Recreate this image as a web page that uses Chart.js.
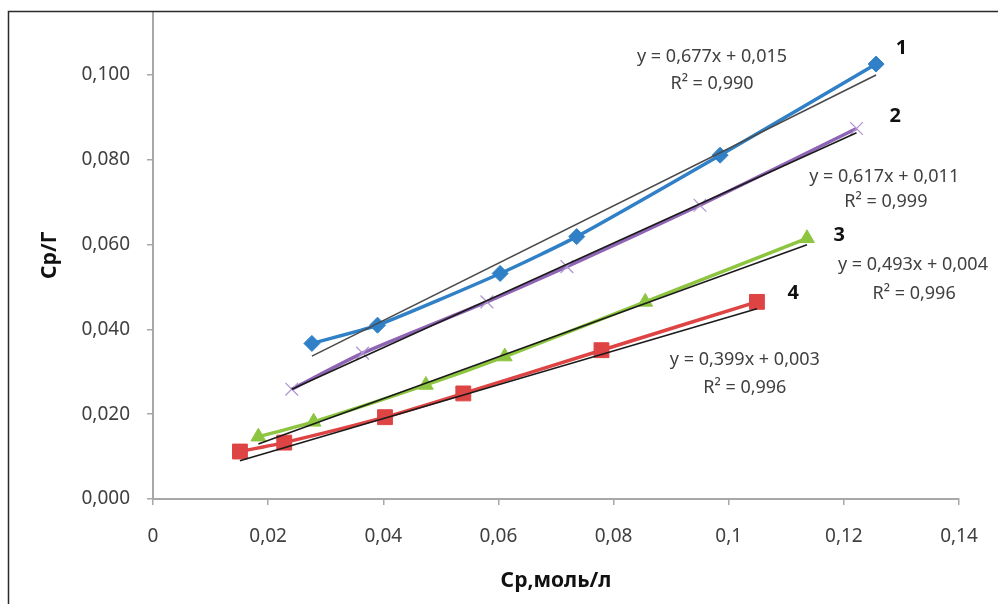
<!DOCTYPE html>
<html lang="ru">

<head>
    <meta charset="UTF-8">
    <title>Ср/Г от Ср</title>
    <style>
        html, body {
            margin: 0;
            padding: 0;
            background: #fff;
        }

        #wrap {
            width: 998px;
            height: 604px;
        }
    </style>
</head>

<body>

    <div id="wrap">
        <canvas id="chart"></canvas>
    </div>

    <script src="https://cdn.jsdelivr.net/npm/chart.js@4.4.3/dist/chart.umd.min.js"></script>

    <script>
        // curve 1 (blue diamonds)
        const x1 = [0.0276, 0.0390, 0.0603, 0.0736, 0.0985, 0.1256]
        const y1 = [0.0367, 0.0410, 0.0532, 0.0619, 0.0811, 0.1026]
        // curve 2 (purple crosses)
        const x2 = [0.0241, 0.0364, 0.0580, 0.0719, 0.0950, 0.1222]
        const y2 = [0.0259, 0.0344, 0.0465, 0.0548, 0.0693, 0.0874]
        // curve 3 (green triangles)
        const x3 = [0.0183, 0.0279, 0.0474, 0.0611, 0.0855, 0.1136]
        const y3 = [0.0147, 0.0182, 0.0269, 0.0336, 0.0465, 0.0615]
        // curve 4 (red squares)
        const x4 = [0.0151, 0.0228, 0.0403, 0.0539, 0.0779, 0.1049]
        const y4 = [0.0112, 0.0133, 0.0193, 0.0249, 0.0351, 0.0465]

        // linear trend lines, ends
        const t1x = [0.0276, 0.1256]
        const t1y = [0.0337, 0.1000]
        const t2x = [0.0241, 0.1222]
        const t2y = [0.0259, 0.0864]
        const t3x = [0.0183, 0.1136]
        const t3y = [0.0130, 0.0600]
        const t4x = [0.0151, 0.1049]
        const t4y = [0.0090, 0.0449]

        const xTicks = [0, 0.02, 0.04, 0.06, 0.08, 0.1, 0.12, 0.14]
        const xTickLabels = ['0', '0,02', '0,04', '0,06', '0,08', '0,1', '0,12', '0,14']
        const yTicks = [0, 0.02, 0.04, 0.06, 0.08, 0.1]
        const yTickLabels = ['0,000', '0,020', '0,040', '0,060', '0,080', '0,100']

        // equation notes (data coordinates of text centre)
        const noteText = ['y = 0,677x + 0,015', 'R² = 0,990',
            'y = 0,617x + 0,011', 'R² = 0,999',
            'y = 0,493x + 0,004', 'R² = 0,996',
            'y = 0,399x + 0,003', 'R² = 0,996']
        const noteX = [0.0971, 0.0971, 0.1270, 0.1273, 0.1320, 0.1322, 0.1028, 0.1028]
        const noteY = [0.1043, 0.0980, 0.0760, 0.0701, 0.0552, 0.0485, 0.0328, 0.0261]

        const curveNames = ['1', '2', '3', '4']
        const nameX = [0.1300, 0.1289, 0.1192, 0.1112]
        const nameY = [0.1063, 0.0902, 0.0623, 0.0485]

        const pts = (xs, ys) => xs.map((x, i) => ({ x: x, y: ys[i] }))

        const frame = {
            id: 'frame',
            afterDraw(chart) {
                const c = chart.ctx
                c.save()
                c.strokeStyle = '#2a2a2a'
                c.lineWidth = 1.5
                c.beginPath()
                c.moveTo(8.5, chart.height)
                c.lineTo(8.5, 11.5)
                c.lineTo(chart.width, 11.5)
                c.stroke()
                c.restore()
            }
        }

        const notes = {
            id: 'notes',
            afterDatasetsDraw(chart) {
                const c = chart.ctx
                const sx = chart.scales.x
                const sy = chart.scales.y
                c.save()
                c.textAlign = 'center'
                c.textBaseline = 'middle'
                c.fillStyle = '#404040'
                c.font = '18px "Noto Sans"'
                noteText.forEach((t, i) => {
                    c.fillText(t, sx.getPixelForValue(noteX[i]), sy.getPixelForValue(noteY[i]))
                })
                c.fillStyle = '#111'
                c.font = 'bold 20px "Noto Sans"'
                curveNames.forEach((t, i) => {
                    c.fillText(t, sx.getPixelForValue(nameX[i]), sy.getPixelForValue(nameY[i]))
                })
                c.restore()
            }
        }

        const serie = (xs, ys, color, style, radius, extra) => Object.assign({
            data: pts(xs, ys),
            showLine: true,
            borderColor: color,
            backgroundColor: color,
            borderWidth: 3.5,
            pointStyle: style,
            pointRadius: radius,
            pointBorderColor: color,
            pointBackgroundColor: color,
            pointBorderWidth: 1,
            tension: 0.2,
            order: 2,
        }, extra || {})

        const trend = (xs, ys, color) => ({
            data: pts(xs, ys),
            showLine: true,
            borderColor: color,
            borderWidth: 1.6,
            pointRadius: 0,
            tension: 0,
            order: 1,
        })

        Chart.defaults.font.family = '"Noto Sans", sans-serif'

        new Chart(document.getElementById('chart'), {
            type: 'scatter',
            data: {
                datasets: [
                    trend(t1x, t1y, '#4a4a4a'),
                    trend(t2x, t2y, '#1a1a1a'),
                    trend(t3x, t3y, '#1a1a1a'),
                    trend(t4x, t4y, '#1a1a1a'),
                    serie(x1, y1, '#2f80c6', 'rectRot', 8),
                    serie(x2, y2, '#8e64b4', 'crossRot', 9, { pointBorderColor: '#b196d2', pointBorderWidth: 1.3 }),
                    serie(x3, y3, '#8dc540', 'triangle', 8.5),
                    serie(x4, y4, '#de4444', 'rect', 10.5),
                ],
            },
            options: {
                responsive: true,
                maintainAspectRatio: false,
                animation: false,
                layout: { padding: { left: 0, right: 39, top: 11.4, bottom: 0 } },
                plugins: {
                    legend: { display: false },
                    tooltip: { enabled: false },
                },
                scales: {
                    x: {
                        type: 'linear',
                        min: 0,
                        max: 0.14,
                        afterBuildTicks: s => { s.ticks = xTicks.map(v => ({ value: v })) },
                        afterFit: s => { s.height = 105; s.paddingLeft = 0; s.paddingRight = 0 },
                        grid: { drawOnChartArea: false, drawTicks: true, tickLength: 6, color: '#a8a8a8', lineWidth: 1.5 },
                        border: { color: '#a8a8a8', width: 2 },
                        ticks: {
                            padding: 20,
                            color: '#404040',
                            font: { size: 19 },
                            maxRotation: 0,
                            autoSkip: false,
                            callback: (v, i) => xTickLabels[i],
                        },
                        title: {
                            display: true,
                            text: 'Ср,моль/л',
                            color: '#111',
                            font: { size: 21, weight: 'bold' },
                            padding: { top: 0, bottom: 10 },
                        },
                    },
                    y: {
                        type: 'linear',
                        min: 0,
                        max: 0.115,
                        afterBuildTicks: s => { s.ticks = yTicks.map(v => ({ value: v })) },
                        afterFit: s => { s.width = 153; s.paddingTop = 0; s.paddingBottom = 0 },
                        grid: { drawOnChartArea: false, drawTicks: true, tickLength: 6, color: '#a8a8a8', lineWidth: 1.5 },
                        border: { color: '#a8a8a8', width: 2 },
                        ticks: {
                            padding: 17,
                            color: '#404040',
                            font: { size: 19 },
                            autoSkip: false,
                            callback: (v, i) => yTickLabels[i],
                        },
                        title: {
                            display: true,
                            text: 'Ср/Г',
                            color: '#111',
                            font: { size: 21, weight: 'bold' },
                            padding: { top: 37, bottom: 0 },
                        },
                    },
                },
            },
            plugins: [notes, frame],
        })
    </script>

</body>

</html>
